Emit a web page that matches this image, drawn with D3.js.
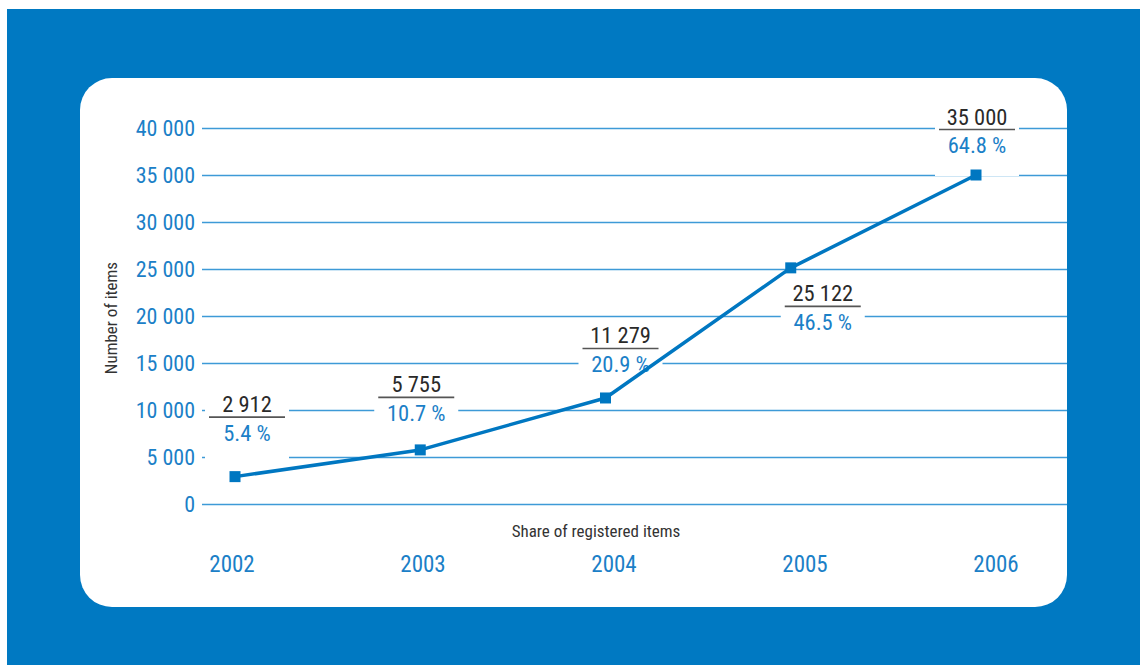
<!DOCTYPE html>
<html>
<head>
<meta charset="utf-8">
<script src="https://cdn.jsdelivr.net/npm/d3@7"></script>
<style>
  html, body { margin: 0; padding: 0; background: #fff; }
  svg { display: block; }
  text { font-family: "Liberation Sans Narrow", "Roboto Condensed", "Arial Narrow", "Liberation Sans", sans-serif; }
</style>
</head>
<body>
<svg id="chart" width="1140" height="665"></svg>
<script>
// ---- data ----
const years = ["2002", "2003", "2004", "2005", "2006"];
const items = [2912, 5755, 11279, 25122, 35000];
const shares = [5.4, 10.7, 20.9, 46.5, 64.8];
const yTicks = [0, 5000, 10000, 15000, 20000, 25000, 30000, 35000, 40000];

// ---- layout / style ----
const W = 1140, H = 665;
const blue = "#0079c2";
const textBlue = "#1b80c7";
const gridBlue = "#3d9ad7";
const panel = { x: 80, y: 78, w: 987, h: 529, r: 32 };
const plot = { left: 202, right: 1067, top: 128, bottom: 504 };
// label placement relative to each point: [dx, dy of value-text centre]
const labelOffsets = [[12, -72], [-4, -65], [15, -62], [32, 26], [1, -58]];

const svg = d3.select("#chart");
svg.append("rect").attr("x", 7).attr("y", 9).attr("width", W - 7).attr("height", H - 9).attr("fill", blue);
svg.append("rect").attr("x", panel.x).attr("y", panel.y).attr("width", panel.w).attr("height", panel.h)
  .attr("rx", panel.r).attr("ry", panel.r).attr("fill", "#fff");

const y = d3.scaleLinear().domain([0, 40000]).range([plot.bottom, plot.top]);
const xPts = d3.scalePoint().domain(years).range([235, 976]);
const xLab = d3.scalePoint().domain(years).range([232, 996]);

const fmt = v => d3.format(",")(v).replace(/,/g, " ");

// y axis with gridlines
const yAxis = d3.axisLeft(y).tickValues(yTicks).tickFormat(fmt)
  .tickSize(-(plot.right - plot.left)).tickPadding(7);
const gy = svg.append("g").attr("transform", `translate(${plot.left},0)`).call(yAxis);
gy.select(".domain").remove();
gy.selectAll(".tick line").attr("stroke", gridBlue).attr("stroke-width", 1.5);
gy.selectAll(".tick text").attr("fill", textBlue).attr("font-size", 22)
  .attr("font-family", "'Liberation Sans Narrow', 'Roboto Condensed', 'Arial Narrow', 'Liberation Sans', sans-serif");

// axis titles
svg.append("text").attr("transform", `translate(117,318) rotate(-90)`)
  .attr("text-anchor", "middle").attr("font-size", 17).attr("fill", "#333").text("Number of items");
svg.append("text").attr("x", 596).attr("y", 537)
  .attr("text-anchor", "middle").attr("font-size", 17).attr("fill", "#333").text("Share of registered items");

// year labels
svg.append("g").selectAll("text").data(years).join("text")
  .attr("x", d => xLab(d)).attr("y", 572)
  .attr("text-anchor", "middle").attr("font-size", 23).attr("fill", textBlue).text(d => d);

// data
const data = years.map((yr, i) => ({ yr, v: items[i], s: shares[i], off: labelOffsets[i] }));

// label boxes (white, hide gridlines)
const labels = svg.append("g").selectAll("g").data(data).join("g")
  .attr("transform", d => `translate(${xPts(d.yr) + d.off[0]},${y(d.v) + d.off[1]})`);
labels.append("rect").attr("x", -42).attr("y", -14).attr("width", 84).attr("height", 73).attr("fill", "#fff");
labels.append("text").attr("y", 7.5).attr("text-anchor", "middle").attr("font-size", 22.5).attr("fill", "#2a2a2a")
  .text(d => fmt(d.v));
labels.append("line").attr("x1", -38).attr("x2", 38).attr("y1", 12.5).attr("y2", 12.5)
  .attr("stroke", "#555").attr("stroke-width", 1.6);
labels.append("text").attr("y", 36).attr("text-anchor", "middle").attr("font-size", 22.5).attr("fill", textBlue)
  .text(d => d.s.toFixed(1) + " %");

// line
const line = d3.line().x(d => xPts(d.yr)).y(d => y(d.v));
svg.append("path").datum(data).attr("d", line).attr("fill", "none")
  .attr("stroke", "#0077c1").attr("stroke-width", 3.5).attr("stroke-linejoin", "round");
svg.append("g").selectAll("rect").data(data).join("rect")
  .attr("x", d => xPts(d.yr) - 5.5).attr("y", d => y(d.v) - 5.5)
  .attr("width", 11).attr("height", 11).attr("fill", "#0077c1");
</script>
</body>
</html>
